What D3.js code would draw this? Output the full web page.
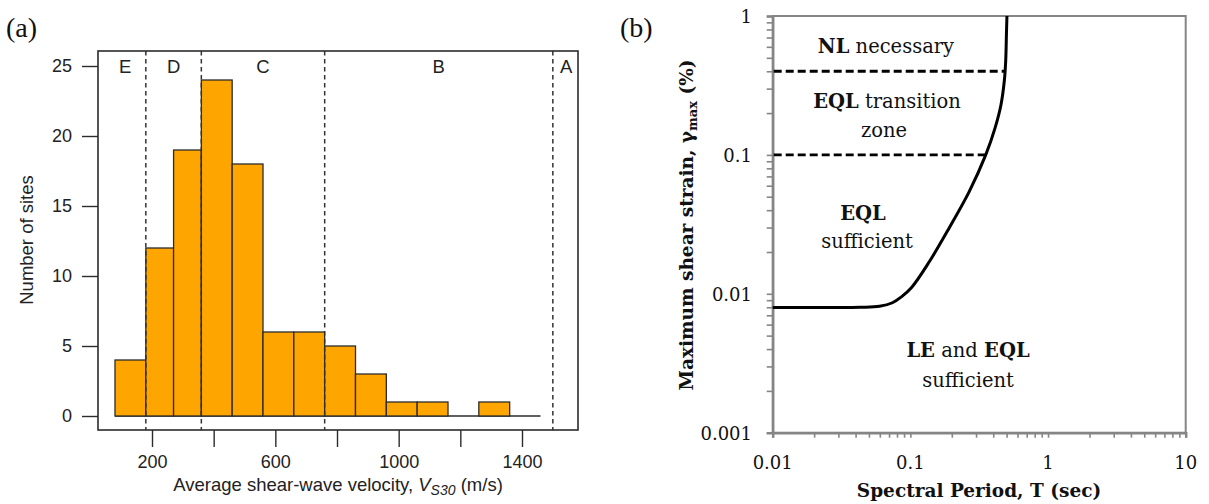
<!DOCTYPE html>
<html>
<head>
<meta charset="utf-8">
<script src="https://cdn.jsdelivr.net/npm/d3@7"></script>
<style>
  html, body { margin: 0; padding: 0; background: #fff; }
  svg { display: block; }
</style>
</head>
<body>
<svg id="fig" width="1209" height="504"></svg>
<script>
// ---------- (a) histogram of site Vs30 ----------
const binBreaks = [80, 180, 270, 360, 460, 560, 660, 760, 860, 960, 1060, 1160, 1260, 1360, 1460];
const binCounts = [4, 12, 19, 24, 18, 6, 6, 5, 3, 1, 1, 0, 1, 0];
const siteClassBounds = [180, 360, 760, 1500];
const siteClassNames = ["E", "D", "C", "B", "A"];
const siteClassLabelAt = [113, 270, 560, 1130, 1543];
const vsTicks = [200, 400, 600, 800, 1000, 1200, 1400];
const vsTickLabels = [200, 600, 1000, 1400];
const countTicks = [0, 5, 10, 15, 20, 25];

// ---------- (b) strain threshold curve ----------
const periodT = [0.01, 0.0428, 0.0597, 0.0741, 0.0861, 0.1017, 0.1372, 0.1914, 0.267, 0.3527, 0.412, 0.455, 0.482, 0.493, 0.4985, 0.503];
const strainMax = [0.00797, 0.0080, 0.00813, 0.00862, 0.00951, 0.01105, 0.0170, 0.0298, 0.0542, 0.1, 0.156, 0.229, 0.346, 0.483, 0.730, 1.0];
const strainLimits = [0.4, 0.1];
const strainLimitEndT = [0.487, 0.3527];
const periodTicks = [0.01, 0.1, 1, 10];
const periodTickLabels = ["0.01", "0.1", "1", "10"];
const strainTicks = [0.001, 0.01, 0.1, 1];
const strainTickLabels = ["0.001", "0.01", "0.1", "1"];

const svg = d3.select("#fig");
svg.append("rect").attr("width", 1209).attr("height", 504).attr("fill", "#fff");

// ===== panel (a) =====
const sans = "'Liberation Sans', Arial, sans-serif";
const A = { left: 98, right: 578, top: 51, bottom: 430 };
const xA = d3.scaleLinear().domain([200, 1400]).range([152, 522]);
const yA = d3.scaleLinear().domain([0, 25]).range([416, 66]);
const gA = svg.append("g");
const ink = "#2b2b2b";

// bars
const bins = binCounts.map((c, i) => ({ x0: binBreaks[i], x1: binBreaks[i + 1], n: c }));
gA.append("line")
  .attr("x1", xA(binBreaks[0])).attr("x2", xA(binBreaks[binBreaks.length - 1]))
  .attr("y1", yA(0)).attr("y2", yA(0))
  .attr("stroke", ink).attr("stroke-width", 1.3);
gA.selectAll("rect.bar").data(bins.filter(d => d.n > 0)).join("rect")
  .attr("class", "bar")
  .attr("x", d => xA(d.x0)).attr("width", d => xA(d.x1) - xA(d.x0))
  .attr("y", d => yA(d.n)).attr("height", d => yA(0) - yA(d.n))
  .attr("fill", "#FFA500").attr("stroke", ink).attr("stroke-width", 1.3);

// site-class boundaries
gA.selectAll("line.cls").data(siteClassBounds).join("line")
  .attr("class", "cls")
  .attr("x1", d => xA(d)).attr("x2", d => xA(d))
  .attr("y1", A.top).attr("y2", A.bottom)
  .attr("stroke", "#333").attr("stroke-width", 1.5).attr("stroke-dasharray", "4.5,3.5");
gA.selectAll("text.cls").data(siteClassNames).join("text")
  .attr("class", "cls")
  .attr("x", (d, i) => xA(siteClassLabelAt[i])).attr("y", 73)
  .attr("text-anchor", "middle").attr("font-family", sans).attr("font-size", 18.5)
  .attr("fill", "#222").text(d => d);

// frame
gA.append("rect").attr("x", A.left).attr("y", A.top)
  .attr("width", A.right - A.left).attr("height", A.bottom - A.top)
  .attr("fill", "none").attr("stroke", ink).attr("stroke-width", 1.6);

// y axis
const yAxA = gA.append("g").attr("transform", `translate(${A.left},0)`)
  .call(d3.axisLeft(yA).tickValues(countTicks).tickSize(16).tickPadding(10).tickFormat(d3.format("d")));
yAxA.select(".domain").remove();
yAxA.selectAll("line").attr("stroke", ink).attr("stroke-width", 1.4);
yAxA.selectAll("text").attr("font-family", sans).attr("font-size", 18).attr("fill", "#222");

// x axis
const xAxA = gA.append("g").attr("transform", `translate(0,${A.bottom})`)
  .call(d3.axisBottom(xA).tickValues(vsTicks).tickSize(17).tickPadding(8)
    .tickFormat(d => vsTickLabels.includes(d) ? d : ""));
xAxA.select(".domain").remove();
xAxA.selectAll("line").attr("stroke", ink).attr("stroke-width", 1.4);
xAxA.selectAll("text").attr("font-family", sans).attr("font-size", 18).attr("fill", "#222");

// titles
const xtA = gA.append("text").attr("x", 338).attr("y", 491).attr("text-anchor", "middle")
  .attr("font-family", sans).attr("font-size", 18.5).attr("fill", "#222");
xtA.append("tspan").text("Average shear-wave velocity, ");
xtA.append("tspan").attr("font-style", "italic").text("V");
xtA.append("tspan").attr("font-style", "italic").attr("font-size", 14).attr("dy", 4).text("S30");
xtA.append("tspan").attr("dy", -4).text(" (m/s)");

gA.append("text").attr("transform", "translate(33,240) rotate(-90)")
  .attr("text-anchor", "middle").attr("font-family", sans).attr("font-size", 18.5)
  .attr("fill", "#222").text("Number of sites");

svg.append("text").attr("x", 6).attr("y", 37).attr("font-family", "'Liberation Serif', serif")
  .attr("font-size", 28).attr("fill", "#111").text("(a)");

// ===== panel (b) =====
const serif = "'DejaVu Serif', serif";
const B = { left: 772.7, right: 1185.7, top: 16, bottom: 432.7 };
const xB = d3.scaleLog().domain([0.01, 10]).range([B.left, B.right]);
const yB = d3.scaleLog().domain([0.001, 1]).range([B.bottom, B.top]);
const gB = svg.append("g");
const grey = "#858585";

// frame
gB.append("rect").attr("x", B.left).attr("y", B.top)
  .attr("width", B.right - B.left).attr("height", B.bottom - B.top)
  .attr("fill", "none").attr("stroke", grey).attr("stroke-width", 2);

// minor + major ticks
const decadeTicks = (lo, hi) => {
  const out = [];
  for (let e = Math.log10(lo); e < Math.log10(hi); e++) {
    for (let k = 1; k < 10; k++) out.push(k * Math.pow(10, e));
  }
  out.push(hi);
  return out;
};
const yAxB = gB.append("g").attr("transform", `translate(${B.left},0)`)
  .call(d3.axisLeft(yB).tickValues(decadeTicks(0.001, 1)).tickSize(6).tickFormat(""));
yAxB.select(".domain").attr("stroke", grey).attr("stroke-width", 2.5);
yAxB.selectAll("line").attr("stroke", grey).attr("stroke-width", 1.6);

const xAxB = gB.append("g").attr("transform", `translate(0,${B.bottom})`)
  .call(d3.axisBottom(xB).tickValues(decadeTicks(0.01, 10)).tickSize(5).tickFormat(""));
xAxB.select(".domain").attr("stroke", grey).attr("stroke-width", 2.5);
xAxB.selectAll("line").attr("stroke", grey).attr("stroke-width", 1.6);

// tick labels
gB.selectAll("text.yl").data(strainTicks).join("text").attr("class", "yl")
  .attr("x", 752).attr("y", d => yB(d) + 7)
  .attr("text-anchor", "end").attr("font-family", serif).attr("font-size", 18)
  .attr("fill", "#111").text((d, i) => strainTickLabels[i]);
gB.selectAll("text.xl").data(periodTicks).join("text").attr("class", "xl")
  .attr("x", d => xB(d)).attr("y", 469)
  .attr("text-anchor", "middle").attr("font-family", serif).attr("font-size", 18)
  .attr("fill", "#111").text((d, i) => periodTickLabels[i]);

// strain limit lines
gB.selectAll("line.lim").data(strainLimits).join("line").attr("class", "lim")
  .attr("x1", B.left + 1).attr("x2", (d, i) => xB(strainLimitEndT[i]))
  .attr("y1", d => yB(d)).attr("y2", d => yB(d))
  .attr("stroke", "#000").attr("stroke-width", 2.8).attr("stroke-dasharray", "8,4");

// threshold curve
const curvePts = periodT.map((t, i) => [t, strainMax[i]]);
gB.append("path").datum(curvePts)
  .attr("d", d3.line().x(d => xB(d[0])).y(d => yB(d[1])).curve(d3.curveCatmullRom.alpha(0.5)))
  .attr("fill", "none").attr("stroke", "#000").attr("stroke-width", 3);

// zone labels
function zoneLabel(x, y, parts) {
  const t = gB.append("text").attr("x", x).attr("y", y).attr("text-anchor", "middle")
    .attr("font-family", serif).attr("font-size", 19.5).attr("fill", "#111");
  parts.forEach(p => t.append("tspan").attr("font-weight", p[1] ? "bold" : "normal").text(p[0]));
}
zoneLabel(886, 53, [["NL", 1], [" necessary", 0]]);
zoneLabel(887, 108, [["EQL", 1], [" transition", 0]]);
zoneLabel(884, 137, [["zone", 0]]);
zoneLabel(863, 220, [["EQL", 1]]);
zoneLabel(867, 248, [["sufficient", 0]]);
zoneLabel(968, 357, [["LE", 1], [" and ", 0], ["EQL", 1]]);
zoneLabel(968, 387, [["sufficient", 0]]);

// axis titles
gB.append("text").attr("x", 979).attr("y", 497).attr("text-anchor", "middle")
  .attr("font-family", serif).attr("font-weight", "bold").attr("font-size", 18.5)
  .attr("fill", "#111").text("Spectral Period, T (sec)");
const ytB = gB.append("text").attr("transform", "translate(693,225) rotate(-90)")
  .attr("text-anchor", "middle").attr("font-family", serif).attr("font-weight", "bold")
  .attr("font-size", 18.5).attr("fill", "#111");
ytB.append("tspan").text("Maximum shear strain, γ");
ytB.append("tspan").attr("font-size", 13).attr("dy", 4).text("max");
ytB.append("tspan").attr("dy", -4).text(" (%)");

svg.append("text").attr("x", 620).attr("y", 37).attr("font-family", "'Liberation Serif', serif")
  .attr("font-size", 28).attr("fill", "#111").text("(b)");
</script>
</body>
</html>
